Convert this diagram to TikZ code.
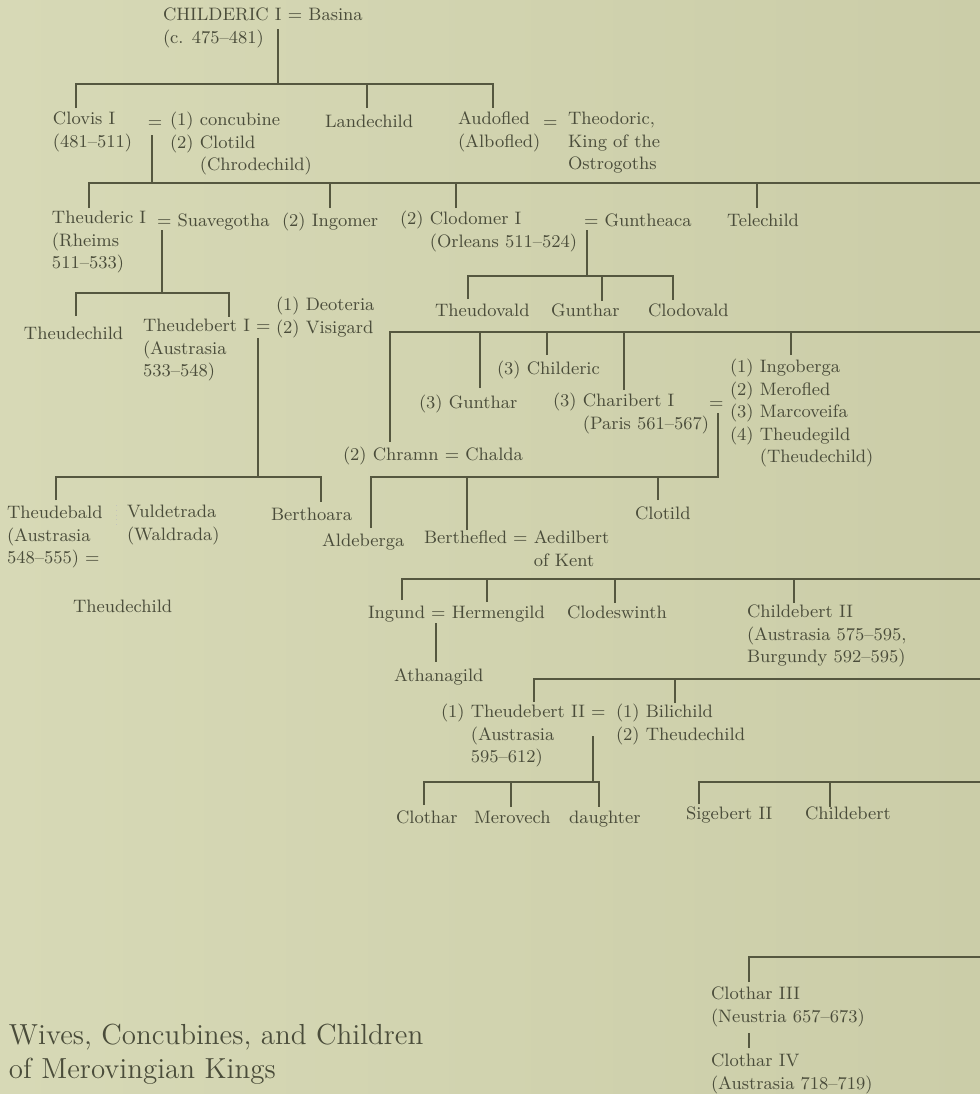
\documentclass[tikz,border=0pt]{standalone}
\usepackage{fontspec}
\definecolor{paperL}{HTML}{D7D9B6}
\definecolor{paperR}{HTML}{CBCDA8}
\definecolor{ink}{HTML}{4A4C3A}
\definecolor{rule}{HTML}{55573F}

\begin{document}
\begin{tikzpicture}[x=0.5pt, y=-0.5pt,
  every node/.style={inner sep=0pt, outer sep=0pt, text=ink},
  nm/.style={anchor=north west, align=left, yshift=-1.5pt, font=\fontsize{9}{11.25}\selectfont, execute at begin node=\strut},
  ttl/.style={anchor=north west, align=left, yshift=-2.5pt, font=\fontsize{14.5}{17}\selectfont, execute at begin node=\strut},
  ln/.style={draw=rule, line width=0.6pt}]
\shade[left color=paperL, right color=paperR] (0,0) rectangle (980,1094);
\useasboundingbox (0,0) rectangle (980,1094);

% names
\node[nm] (chil) at (163,5) {CHILDERIC I = Basina\\(c. 475–481)};
\node[nm] (clov) at (53,109) {Clovis I\\(481–511)};
\node[nm] (eq1) at (148,109) {=};
\node[nm] (wiv1) at (170,109) {(1) concubine\\(2) Clotild\\\phantom{(2) }(Chrodechild)};
\node[nm] (land) at (325,109) {Landechild};
\node[nm] (audo) at (458,109) {Audofled\\(Albofled)};
\node[nm] (eq2) at (543,109) {=};
\node[nm] (theo) at (568,109) {Theodoric,\\King of the\\Ostrogoths};
\node[nm] (theu) at (52,208) {Theuderic I\\(Rheims\\511–533)};
\node[nm] (suav) at (157,208) {= Suavegotha};
\node[nm] (ingo) at (282,208) {(2) Ingomer};
\node[nm] (clod) at (400,208) {(2) Clodomer I\\\phantom{(2) }(Orleans 511–524)};
\node[nm] (gunt) at (584,208) {= Guntheaca};
\node[nm] (tele) at (727,208) {Telechild};
\node[nm] (thc1) at (24,321) {Theudechild};
\node[nm] (thb1) at (143,316) {Theudebert I =\\(Austrasia\\533–548)};
\node[nm] (deot) at (276,294) {(1) Deoteria\\(2) Visigard};
\node[nm] (thvd) at (435,298) {Theudovald};
\node[nm] (gun1) at (551,298) {Gunthar};
\node[nm] (clvd) at (648,298) {Clodovald};
\node[nm] (chlc) at (497,356) {(3) Childeric};
\node[nm] (ingb) at (730,356) {(1) Ingoberga\\(2) Merofled\\(3) Marcoveifa\\(4) Theudegild\\\phantom{(4) }(Theudechild)};
\node[nm] (gun3) at (419,390) {(3) Gunthar};
\node[nm] (char) at (553,390) {(3) Charibert I\\\phantom{(3) }(Paris 561–567)};
\node[nm] (eq3) at (709,390) {=};
\node[nm] (chra) at (343,442) {(2) Chramn = Chalda};
\node[nm] (thbd) at (7,503) {Theudebald\\(Austrasia\\548–555) =};
\node[nm] (vuld) at (127,502) {Vuldetrada\\(Waldrada)};
\node[nm] (bert) at (271,502) {Berthoara};
\node[nm] (thc2) at (73,594) {Theudechild};
\node[nm] (alde) at (322,528) {Aldeberga};
\node[nm] (bthf) at (424,528) {Berthefled = Aedilbert\\\phantom{Berthefled = }of Kent};
\node[nm] (clot) at (635,501) {Clotild};
\node[nm] (ingu) at (368,600) {Ingund = Hermengild};
\node[nm] (clds) at (567,600) {Clodeswinth};
\node[nm] (chb2) at (747,602) {Childebert II\\(Austrasia 575–595,\\Burgundy 592–595)};
\node[nm] (atha) at (394,663) {Athanagild};
\node[nm] (thb2) at (441,701) {(1) Theudebert II =\\\phantom{(1) }(Austrasia\\\phantom{(1) }595–612)};
\node[nm] (bili) at (616,701) {(1) Bilichild\\(2) Theudechild};
\node[nm] (clth) at (396,805) {Clothar};
\node[nm] (merv) at (474,805) {Merovech};
\node[nm] (daug) at (569,805) {daughter};
\node[nm] (sig2) at (686,801) {Sigebert II};
\node[nm] (chld) at (805,801) {Childebert};
\node[nm] (clo3) at (711,984) {Clothar III\\(Neustria 657–673)};
\node[nm] (clo4) at (711,1051) {Clothar IV\\(Austrasia 718–719)};
\node[ttl] (ttl) at (9,1019) {Wives, Concubines, and Children\\of Merovingian Kings};

% line ends
\coordinate (rim) at (980,0);
\coordinate (pChil) at (278,29);
\coordinate (b1) at (0,84);
\coordinate (kClov) at (76,108);
\coordinate (kLand) at (367,108);
\coordinate (kAudo) at (493,108);
\coordinate (pClov) at (152,135);
\coordinate (b2) at (0,183);
\coordinate (kTheu) at (89,208);
\coordinate (kIngo) at (330,208);
\coordinate (kClod) at (456,208);
\coordinate (kTele) at (757,208);
\coordinate (pTheu) at (162,230);
\coordinate (b3) at (0,293);
\coordinate (kThc1) at (76,316);
\coordinate (kThb1) at (229,317);
\coordinate (pClod) at (587,230);
\coordinate (b4) at (0,276);
\coordinate (kThvd) at (468,299);
\coordinate (kGun1) at (602,301);
\coordinate (kClvd) at (673,300);
\coordinate (b5) at (0,332);
\coordinate (kChra) at (390,442);
\coordinate (kGun3) at (480,388);
\coordinate (kChlc) at (547,355);
\coordinate (kChar) at (624,390);
\coordinate (kIngb) at (791,355);
\coordinate (pThb1) at (258,338);
\coordinate (b6) at (0,477);
\coordinate (kThbd) at (56,500);
\coordinate (kBert) at (321,502);
\coordinate (pChar) at (718,413);
\coordinate (kAlde) at (371,528);
\coordinate (kBthf) at (467,530);
\coordinate (kClot) at (658,500);
\coordinate (b8) at (0,579);
\coordinate (kIngu) at (402,600);
\coordinate (kHerm) at (487,602);
\coordinate (kClds) at (615,603);
\coordinate (kChb2) at (794,603);
\coordinate (pIngu) at (436,623);
\coordinate (kAtha) at (436,662);
\coordinate (b9) at (0,679);
\coordinate (kThb2) at (534,702);
\coordinate (kBili) at (675,703);
\coordinate (pThb2) at (593,736);
\coordinate (b10) at (0,782);
\coordinate (kClth) at (424,805);
\coordinate (kMerv) at (511,807);
\coordinate (kDaug) at (599,807);
\coordinate (kSig2) at (699,804);
\coordinate (kChld) at (830,807);
\coordinate (b11) at (0,957);
\coordinate (kClo3) at (749,982);
\coordinate (pClo3) at (749,1033);
\coordinate (kClo4) at (749,1048);

% lines
\draw[ln] (pChil) -- (pChil |- b1);
\draw[ln] (kClov) -- (kClov |- b1) -- (kAudo |- b1) -- (kAudo);
\draw[ln] (kLand) -- (kLand |- b1);
\draw[ln] (pClov) -- (pClov |- b2);
\draw[ln] (kTheu) -- (kTheu |- b2) -- (rim |- b2);
\draw[ln] (kIngo) -- (kIngo |- b2) (kClod) -- (kClod |- b2) (kTele) -- (kTele |- b2);
\draw[ln] (pTheu) -- (pTheu |- b3);
\draw[ln] (kThc1) -- (kThc1 |- b3) -- (kThb1 |- b3) -- (kThb1);
\draw[ln] (pClod) -- (pClod |- b4);
\draw[ln] (kThvd) -- (kThvd |- b4) -- (kClvd |- b4) -- (kClvd);
\draw[ln] (kGun1) -- (kGun1 |- b4);
\draw[ln] (kChra) -- (kChra |- b5) -- (rim |- b5);
\draw[ln] (kGun3) -- (kGun3 |- b5) (kChlc) -- (kChlc |- b5) (kChar) -- (kChar |- b5) (kIngb) -- (kIngb |- b5);
\draw[ln] (pThb1) -- (pThb1 |- b6);
\draw[ln] (kThbd) -- (kThbd |- b6) -- (kBert |- b6) -- (kBert);
\draw[ln] (pChar) -- (pChar |- b6) -- (kAlde |- b6) -- (kAlde);
\draw[ln] (kBthf) -- (kBthf |- b6) (kClot) -- (kClot |- b6);
\draw[ln] (kIngu) -- (kIngu |- b8) -- (rim |- b8);
\draw[ln] (kHerm) -- (kHerm |- b8) (kClds) -- (kClds |- b8) (kChb2) -- (kChb2 |- b8);
\draw[ln] (pIngu) -- (kAtha);
\draw[ln] (kThb2) -- (kThb2 |- b9) -- (rim |- b9);
\draw[ln] (kBili) -- (kBili |- b9);
\draw[ln] (pThb2) -- (pThb2 |- b10);
\draw[ln] (kClth) -- (kClth |- b10) -- (kDaug |- b10) -- (kDaug);
\draw[ln] (kMerv) -- (kMerv |- b10);
\draw[ln] (kSig2) -- (kSig2 |- b10) -- (rim |- b10);
\draw[ln] (kChld) -- (kChld |- b10);
\draw[ln] (kClo3) -- (kClo3 |- b11) -- (rim |- b11);
\draw[ln] (pClo3) -- (kClo4);
\draw[rule!35, dotted] (116,505) -- (116,527);
\end{tikzpicture}
\end{document}
